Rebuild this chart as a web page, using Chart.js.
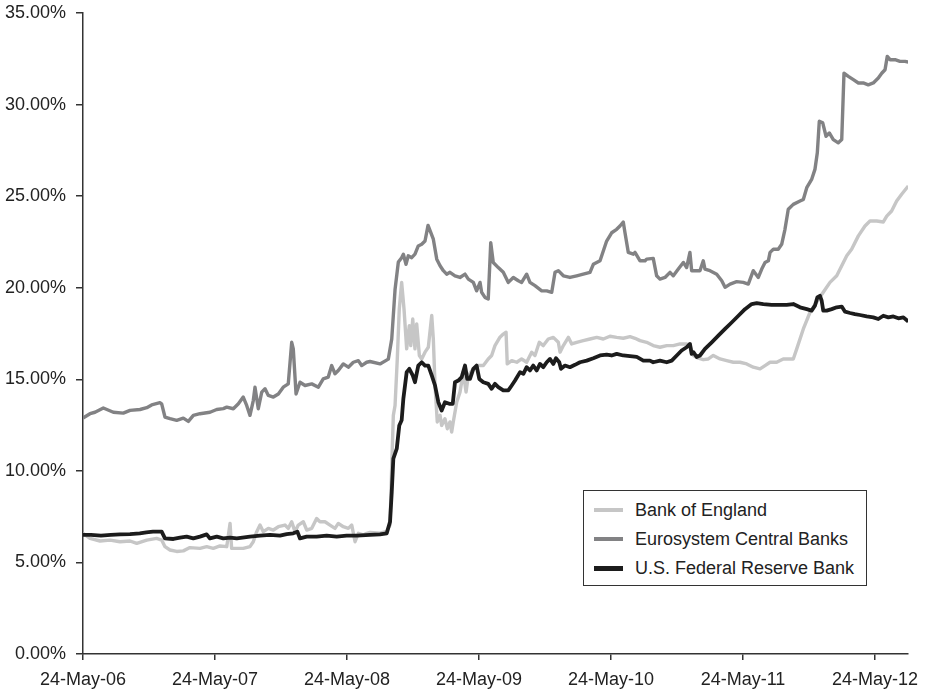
<!DOCTYPE html>
<html>
<head>
<meta charset="utf-8">
<script src="https://cdn.jsdelivr.net/npm/chart.js@4.4.1/dist/chart.umd.min.js"></script>
<style>
    html, body { margin: 0; padding: 0; background: #fff; }
    #wrap { position: relative; width: 925px; height: 691px; }
    #legend {
        position: absolute; left: 583px; top: 490px; width: 282px; height: 94px;
        border: 1px solid #333; background: #fff;
        font-family: "Liberation Sans", Arial, sans-serif; font-size: 18px; color: #222;
    }
    #legend .row { position: absolute; left: 0; height: 24px; line-height: 24px; white-space: nowrap; }
    #legend .swatch { position: absolute; left: 10px; top: 10px; width: 29px; height: 4px; }
    #legend .label { position: absolute; left: 51px; top: 0; }
</style>
</head>
<body>
<div id="wrap">
    <canvas id="chart" width="925" height="691"></canvas>
    <div id="legend"></div>
</div>
<script>
// Share of reserves chart - three central banks, May 2006 to mid 2012
// x values are years since 24-May-06

const tickLabels = ['24-May-06', '24-May-07', '24-May-08', '24-May-09', '24-May-10', '24-May-11', '24-May-12'];
const seriesNames = ['Bank of England', 'Eurosystem Central Banks', 'U.S. Federal Reserve Bank'];

const boeX = [0, 0.053, 0.129, 0.205, 0.28, 0.356, 0.407, 0.483, 0.558, 0.596, 0.621, 0.659, 0.71, 0.76, 0.81, 0.886, 0.937, 0.987, 1.038, 1.089,
    1.114, 1.126, 1.164, 1.214, 1.265, 1.29, 1.316, 1.341, 1.366, 1.404, 1.442, 1.48, 1.53, 1.555, 1.581, 1.606, 1.631, 1.669, 1.695, 1.733,
    1.77, 1.795, 1.833, 1.871, 1.909, 1.934, 1.972, 2.01, 2.036, 2.061, 2.086, 2.123, 2.149, 2.174, 2.25, 2.301, 2.326, 2.339, 2.351, 2.364,
    2.381, 2.396, 2.414, 2.432, 2.452, 2.472, 2.483, 2.498, 2.515, 2.528, 2.548, 2.566, 2.591, 2.616, 2.642, 2.654, 2.667, 2.684, 2.705, 2.717,
    2.742, 2.76, 2.78, 2.793, 2.805, 2.831, 2.856, 2.881, 2.902, 2.919, 2.957, 2.995, 3.033, 3.07, 3.096, 3.121, 3.159, 3.184, 3.205, 3.214,
    3.248, 3.286, 3.323, 3.361, 3.399, 3.424, 3.457, 3.487, 3.525, 3.563, 3.601, 3.614, 3.639, 3.677, 3.702, 3.74, 3.79, 3.841, 3.892, 3.942,
    3.992, 4.043, 4.093, 4.144, 4.182, 4.22, 4.27, 4.32, 4.371, 4.422, 4.472, 4.523, 4.573, 4.598, 4.624, 4.661, 4.699, 4.737, 4.775, 4.826,
    4.876, 4.927, 4.977, 5.028, 5.078, 5.129, 5.167, 5.205, 5.255, 5.305, 5.331, 5.381, 5.407, 5.457, 5.508, 5.558, 5.608, 5.659, 5.71, 5.748,
    5.786, 5.823, 5.874, 5.924, 5.962, 6.013, 6.063, 6.089, 6.126, 6.164, 6.202, 6.252];
const boeY = [6.59, 6.31, 6.17, 6.22, 6.13, 6.17, 6.04, 6.22, 6.31, 6.22, 5.86, 5.68, 5.6, 5.63, 5.81, 5.77, 5.86, 5.77, 5.9, 5.86,
    7.13, 5.77, 5.77, 5.77, 5.86, 6.13, 6.68, 7.04, 6.68, 6.86, 6.77, 6.95, 7.04, 6.86, 7.22, 6.68, 7.04, 7.22, 6.77, 6.86,
    7.4, 7.22, 7.22, 7.04, 6.86, 7.13, 6.95, 6.86, 7.04, 6.13, 6.59, 6.5, 6.59, 6.64, 6.6, 6.7, 7.04, 10.3, 13.03, 13.57,
    16.11, 18.83, 20.29, 18.83, 16.66, 17.93, 16.84, 18.29, 16.66, 18.02, 16.3, 16.11, 16.48, 16.75, 18.48, 17.2, 14.66, 12.67, 13.03, 12.48,
    12.85, 12.3, 12.67, 12.12, 12.67, 13.75, 14.3, 15.39, 14.3, 15.21, 15.57, 15.75, 15.75, 16.11, 16.3, 16.84, 17.3, 17.47, 17.57, 15.84,
    16.02, 15.93, 16.11, 15.93, 16.48, 16.3, 17.02, 16.84, 17.2, 17.29, 17.02, 16.48, 16.84, 17.29, 16.93, 17.02, 17.11, 17.2, 17.29, 17.2,
    17.35, 17.29, 17.24, 17.33, 17.24, 17.11, 17.02, 16.84, 16.75, 16.84, 16.84, 16.93, 16.93, 16.84, 16.3, 16.15, 16.07, 16.11, 16.3, 16.11,
    16.02, 15.93, 15.93, 15.84, 15.66, 15.57, 15.75, 15.93, 15.93, 16.11, 16.11, 16.11, 16.66, 17.75, 18.66, 19.21, 19.75, 20.29, 20.65, 21.2,
    21.74, 22.1, 22.83, 23.37, 23.64, 23.64, 23.59, 23.91, 24.19, 24.73, 25.1, 25.55];

const euroX = [0, 0.053, 0.091, 0.154, 0.23, 0.305, 0.356, 0.432, 0.483, 0.52, 0.583, 0.596, 0.621, 0.659, 0.71, 0.76, 0.798, 0.836, 0.886, 0.962,
    1.013, 1.063, 1.089, 1.139, 1.177, 1.214, 1.24, 1.265, 1.29, 1.303, 1.328, 1.354, 1.379, 1.404, 1.442, 1.48, 1.517, 1.555, 1.581, 1.593,
    1.614, 1.644, 1.682, 1.733, 1.783, 1.82, 1.858, 1.884, 1.909, 1.934, 1.972, 2.01, 2.048, 2.086, 2.111, 2.149, 2.174, 2.25, 2.313, 2.339,
    2.364, 2.389, 2.414, 2.427, 2.447, 2.464, 2.49, 2.515, 2.54, 2.566, 2.591, 2.614, 2.654, 2.68, 2.705, 2.73, 2.755, 2.78, 2.818, 2.856,
    2.894, 2.919, 2.957, 2.982, 3.008, 3.02, 3.045, 3.07, 3.089, 3.108, 3.146, 3.184, 3.222, 3.26, 3.298, 3.323, 3.361, 3.386, 3.424, 3.475,
    3.513, 3.551, 3.576, 3.601, 3.639, 3.689, 3.74, 3.79, 3.841, 3.866, 3.917, 3.967, 4.005, 4.043, 4.068, 4.093, 4.106, 4.131, 4.169, 4.182,
    4.22, 4.258, 4.27, 4.32, 4.346, 4.371, 4.409, 4.447, 4.472, 4.51, 4.548, 4.573, 4.598, 4.611, 4.636, 4.674, 4.699, 4.712, 4.75, 4.801,
    4.839, 4.864, 4.902, 4.952, 5.002, 5.04, 5.078, 5.116, 5.142, 5.167, 5.192, 5.205, 5.23, 5.267, 5.293, 5.318, 5.343, 5.381, 5.432, 5.457,
    5.483, 5.52, 5.545, 5.563, 5.578, 5.604, 5.629, 5.654, 5.684, 5.722, 5.748, 5.765, 5.798, 5.836, 5.874, 5.911, 5.949, 5.987, 6.025, 6.051,
    6.076, 6.093, 6.114, 6.152, 6.189, 6.227, 6.252];
const euroY = [12.88, 13.12, 13.2, 13.43, 13.2, 13.15, 13.3, 13.35, 13.45, 13.6, 13.72, 13.66, 12.94, 12.85, 12.76, 12.88, 12.7, 13.03, 13.12, 13.2,
    13.35, 13.4, 13.48, 13.39, 13.66, 14.03, 13.57, 13.03, 13.84, 14.57, 13.39, 14.3, 14.48, 14.12, 14.03, 14.2, 14.57, 14.75, 17.02, 16.66,
    14.2, 14.84, 14.66, 14.75, 14.57, 15.02, 15.12, 15.75, 15.3, 15.48, 15.84, 15.66, 15.93, 16.02, 15.75, 15.93, 15.97, 15.84, 16.1, 17.2,
    19.9, 21.4, 21.64, 21.83, 21.28, 21.74, 21.64, 21.83, 22.28, 22.37, 22.55, 23.4, 22.65, 21.56, 21.2, 20.93, 20.74, 20.84, 20.65, 20.56,
    20.74, 20.47, 20.29, 19.83, 20.29, 19.75, 19.47, 19.38, 22.46, 21.38, 21.1, 20.84, 20.29, 20.56, 20.38, 20.29, 20.74, 20.29, 20.11, 19.83,
    19.83, 19.75, 20.84, 20.93, 20.65, 20.56, 20.65, 20.74, 20.84, 21.28, 21.47, 22.55, 23.0, 23.19, 23.37, 23.59, 23.0, 21.93, 21.83, 21.93,
    21.47, 21.47, 21.56, 21.6, 20.65, 20.47, 20.56, 20.84, 20.65, 21.02, 21.38, 21.1, 21.93, 20.93, 20.93, 20.93, 21.47, 21.02, 20.93, 20.74,
    20.38, 20.02, 20.2, 20.33, 20.29, 20.2, 20.93, 20.56, 21.02, 21.38, 21.47, 21.93, 22.1, 22.1, 22.37, 23.19, 24.28, 24.55, 24.73, 24.82,
    25.46, 25.91, 26.46, 27.37, 29.09, 29.0, 28.27, 28.45, 28.09, 27.91, 28.09, 31.71, 31.54, 31.36, 31.18, 31.18, 31.08, 31.18, 31.45, 31.71,
    31.9, 32.63, 32.45, 32.45, 32.36, 32.36, 32.32];

const fedX = [0, 0.06, 0.136, 0.21, 0.28, 0.356, 0.43, 0.48, 0.53, 0.596, 0.621, 0.685, 0.735, 0.785, 0.836, 0.886, 0.937, 0.962, 1.013, 1.063,
    1.114, 1.165, 1.265, 1.341, 1.417, 1.492, 1.543, 1.593, 1.624, 1.644, 1.694, 1.77, 1.846, 1.922, 1.997, 2.073, 2.174, 2.25, 2.301, 2.326,
    2.339, 2.351, 2.377, 2.396, 2.414, 2.427, 2.452, 2.472, 2.498, 2.515, 2.54, 2.566, 2.591, 2.616, 2.642, 2.667, 2.692, 2.717, 2.742, 2.775,
    2.801, 2.818, 2.843, 2.869, 2.894, 2.911, 2.932, 2.957, 2.982, 3.002, 3.033, 3.07, 3.096, 3.121, 3.146, 3.184, 3.222, 3.248, 3.273, 3.311,
    3.336, 3.361, 3.386, 3.411, 3.437, 3.462, 3.487, 3.513, 3.538, 3.563, 3.583, 3.608, 3.621, 3.652, 3.689, 3.727, 3.765, 3.816, 3.866, 3.917,
    3.967, 4.005, 4.043, 4.093, 4.144, 4.195, 4.245, 4.295, 4.32, 4.371, 4.422, 4.46, 4.498, 4.535, 4.573, 4.598, 4.611, 4.624, 4.649, 4.674,
    4.712, 4.763, 4.813, 4.864, 4.914, 4.965, 5.015, 5.066, 5.104, 5.154, 5.217, 5.28, 5.331, 5.381, 5.432, 5.483, 5.52, 5.545, 5.563, 5.583,
    5.596, 5.608, 5.634, 5.672, 5.71, 5.748, 5.773, 5.811, 5.848, 5.886, 5.937, 5.987, 6.025, 6.063, 6.101, 6.139, 6.177, 6.215, 6.252];
const fedY = [6.5, 6.5, 6.46, 6.5, 6.53, 6.55, 6.59, 6.64, 6.68, 6.68, 6.31, 6.28, 6.35, 6.41, 6.31, 6.41, 6.53, 6.31, 6.41, 6.31,
    6.35, 6.31, 6.41, 6.46, 6.5, 6.46, 6.55, 6.59, 6.68, 6.31, 6.41, 6.41, 6.46, 6.41, 6.46, 6.46, 6.5, 6.53, 6.59, 7.22,
    8.85, 10.67, 11.21, 12.48, 12.76, 13.94, 15.39, 15.57, 15.21, 14.84, 15.75, 15.93, 15.75, 15.75, 15.21, 14.66, 13.75, 13.3, 13.75, 13.66,
    13.66, 14.84, 14.93, 15.12, 15.75, 15.02, 15.02, 15.57, 15.75, 15.02, 14.84, 14.75, 14.48, 14.75, 14.57, 14.39, 14.39, 14.66, 14.93, 15.39,
    15.3, 15.66, 15.48, 15.75, 15.48, 15.84, 15.66, 15.93, 16.11, 15.84, 16.15, 15.93, 15.57, 15.75, 15.66, 15.79, 15.93, 16.02, 16.15, 16.3,
    16.35, 16.3, 16.39, 16.3, 16.26, 16.22, 16.02, 16.02, 15.93, 16.02, 15.93, 16.02, 16.3, 16.57, 16.75, 16.93, 16.39, 16.48, 16.22, 16.3,
    16.66, 17.02, 17.38, 17.75, 18.1, 18.47, 18.83, 19.11, 19.16, 19.11, 19.06, 19.06, 19.06, 19.11, 18.93, 18.83, 18.75, 19.02, 19.47, 19.56,
    19.29, 18.75, 18.75, 18.83, 18.93, 18.97, 18.69, 18.62, 18.56, 18.51, 18.43, 18.38, 18.29, 18.47, 18.38, 18.43, 18.33, 18.38, 18.15];

const FONT = '"Liberation Sans", Arial, Helvetica, sans-serif';
const AXIS_COLOR = '#333';

function toPoints(xs, ys) {
    return xs.map((x, i) => ({ x: x, y: ys[i] }));
}

const datasets = [
    { label: seriesNames[0], data: toPoints(boeX, boeY), borderColor: '#c6c6c6', borderWidth: 3.4, order: 2 },
    { label: seriesNames[1], data: toPoints(euroX, euroY), borderColor: '#828284', borderWidth: 3.4, order: 1 },
    { label: seriesNames[2], data: toPoints(fedX, fedY), borderColor: '#1c1c1c', borderWidth: 3.8, order: 0 }
];
datasets.forEach(ds => {
    ds.pointRadius = 0;
    ds.pointHoverRadius = 0;
    ds.tension = 0;
    ds.fill = false;
    ds.borderJoinStyle = 'round';
});

Chart.defaults.font.family = FONT;
Chart.defaults.font.size = 18;
Chart.defaults.color = '#222';

// the scales add room for their end labels; the layout padding below handles that instead
function noEdgePadding(scale) {
    scale.paddingTop = 0;
    scale.paddingBottom = 0;
    scale.paddingLeft = 0;
    scale.paddingRight = 0;
}

const chart = new Chart(document.getElementById('chart'), {
    type: 'line',
    data: { datasets: datasets },
    options: {
        responsive: false,
        animation: false,
        layout: { autoPadding: false, padding: { top: 13, right: 17, bottom: 0, left: 0 } },
        plugins: {
            legend: { display: false },
            tooltip: { enabled: false }
        },
        scales: {
            x: {
                type: 'linear',
                min: 0,
                max: 6.25,
                afterFit: scale => { scale.height = 37; noEdgePadding(scale); },
                afterBuildTicks: scale => {
                    scale.ticks = tickLabels.map((_, i) => ({ value: i }));
                },
                border: { display: true, color: AXIS_COLOR, width: 1.5 },
                grid: { drawOnChartArea: false, drawTicks: true, tickLength: 6, color: AXIS_COLOR, lineWidth: 1.5 },
                ticks: {
                    padding: 9,
                    maxRotation: 0,
                    autoSkip: false,
                    callback: value => tickLabels[value]
                }
            },
            y: {
                min: 0,
                max: 35,
                afterFit: scale => { scale.width = 83; noEdgePadding(scale); },
                border: { display: true, color: AXIS_COLOR, width: 1.5 },
                grid: { drawOnChartArea: false, drawTicks: true, tickLength: 7, color: AXIS_COLOR, lineWidth: 1.5 },
                ticks: {
                    stepSize: 5,
                    padding: 10,
                    callback: value => value.toFixed(2) + '%'
                }
            }
        }
    }
});

// legend box drawn as html so the text stays real text
const legend = document.getElementById('legend');
const rowTops = [7, 36, 65];
datasets.forEach((ds, i) => {
    const row = document.createElement('div');
    row.className = 'row';
    row.style.top = rowTops[i] + 'px';
    const swatch = document.createElement('span');
    swatch.className = 'swatch';
    swatch.style.background = ds.borderColor;
    swatch.style.height = (i === 2 ? 5 : 4) + 'px';
    const label = document.createElement('span');
    label.className = 'label';
    label.textContent = ds.label;
    row.appendChild(swatch);
    row.appendChild(label);
    legend.appendChild(row);
});
</script>
</body>
</html>
